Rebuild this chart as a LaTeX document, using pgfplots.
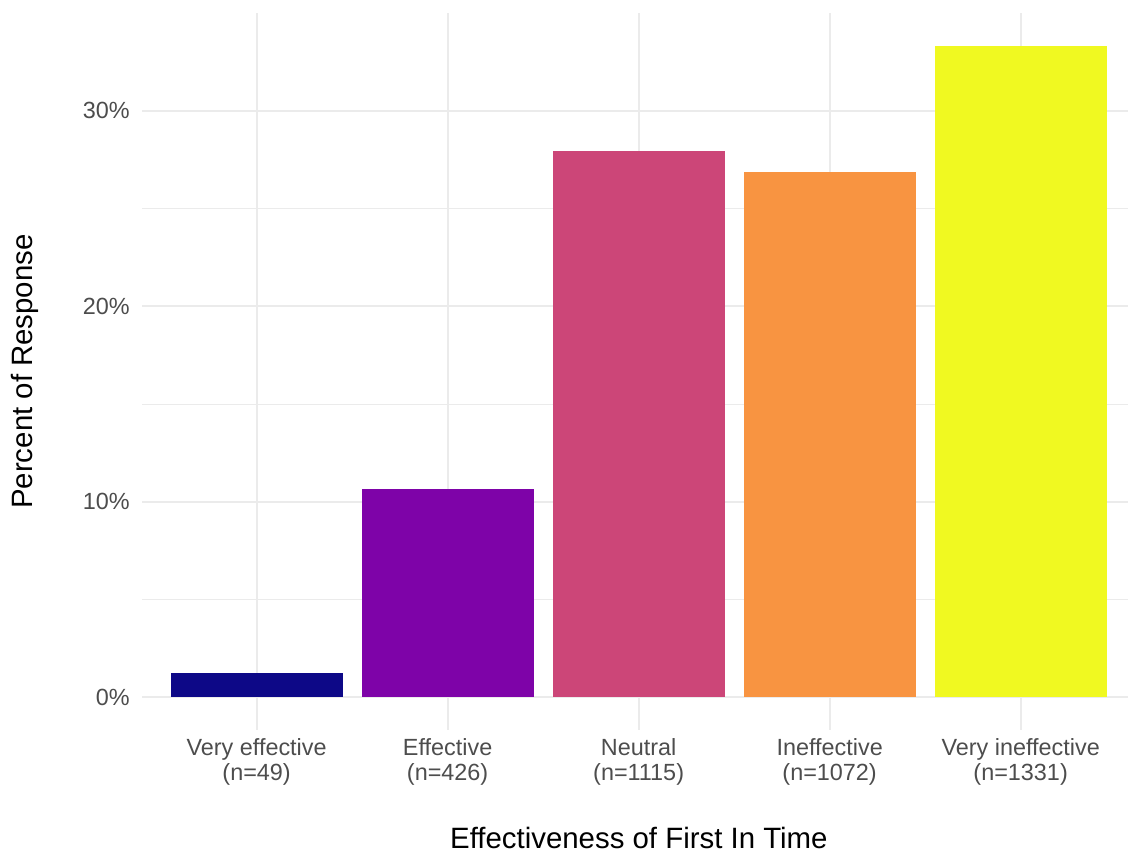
\documentclass[border=0pt]{standalone}
\usepackage{pgfplots}
\pgfplotsset{compat=1.18}
\usepackage{fontspec}
\setmainfont{Liberation Sans}
\definecolor{c1}{HTML}{0D0887}
\definecolor{c2}{HTML}{7E03A8}
\definecolor{c3}{HTML}{CC4678}
\definecolor{c4}{HTML}{F89441}
\definecolor{c5}{HTML}{F0F921}
\definecolor{gridc}{HTML}{EBEBEB}
\definecolor{tickc}{HTML}{4D4D4D}
\begin{document}
\begin{tikzpicture}
\useasboundingbox (0,0) rectangle (564pt,428pt);
\begin{axis}[
  at={(71pt,63pt)}, anchor=south west,
  scale only axis, width=493pt, height=358.5pt,
  xmin=-0.6, xmax=4.562, ymin=-1.667, ymax=35,
  axis line style={draw=none},
  ybar, bar width=0.9,
  xtick={0,1,2,3,4},
  xticklabels={{Very effective\\(n=49)},{Effective\\(n=426)},{Neutral\\(n=1115)},{Ineffective\\(n=1072)},{Very ineffective\\(n=1331)}},
  ytick={0,10,20,30},
  minor ytick={5,15,25},
  yticklabel={\pgfmathprintnumber{\tick}\%},
  /pgf/number format/assume math mode=true,
  major tick length=0pt, minor tick length=0pt,
  tick style={draw=none},
  xmajorgrids, ymajorgrids, yminorgrids,
  major grid style={gridc, line width=1pt},
  minor grid style={gridc, line width=0.55pt},
  xticklabel style={align=center, inner sep=0pt, anchor=north, yshift=-4pt, text=tickc, font=\fontsize{11.7}{12.5}\selectfont},
  yticklabel style={inner sep=0pt, anchor=east, xshift=-6pt, text=tickc, font=\fontsize{11.7}{14}\selectfont},
  xlabel={Effectiveness of First In Time},
  ylabel={Percent of Response},
  xlabel style={at={(axis description cs:0.5039,-0.1506)}, anchor=center, font=\fontsize{14.7}{17}\selectfont},
  ylabel style={at={(axis description cs:-0.1187,0.5)}, anchor=center, font=\fontsize{14.7}{17}\selectfont},
  clip=false,
]
\addplot[fill=c1, draw=none, bar shift=0] coordinates {(0,1.227)};
\addplot[fill=c2, draw=none, bar shift=0] coordinates {(1,10.669)};
\addplot[fill=c3, draw=none, bar shift=0] coordinates {(2,27.924)};
\addplot[fill=c4, draw=none, bar shift=0] coordinates {(3,26.847)};
\addplot[fill=c5, draw=none, bar shift=0] coordinates {(4,33.333)};
\end{axis}
\end{tikzpicture}
\end{document}
